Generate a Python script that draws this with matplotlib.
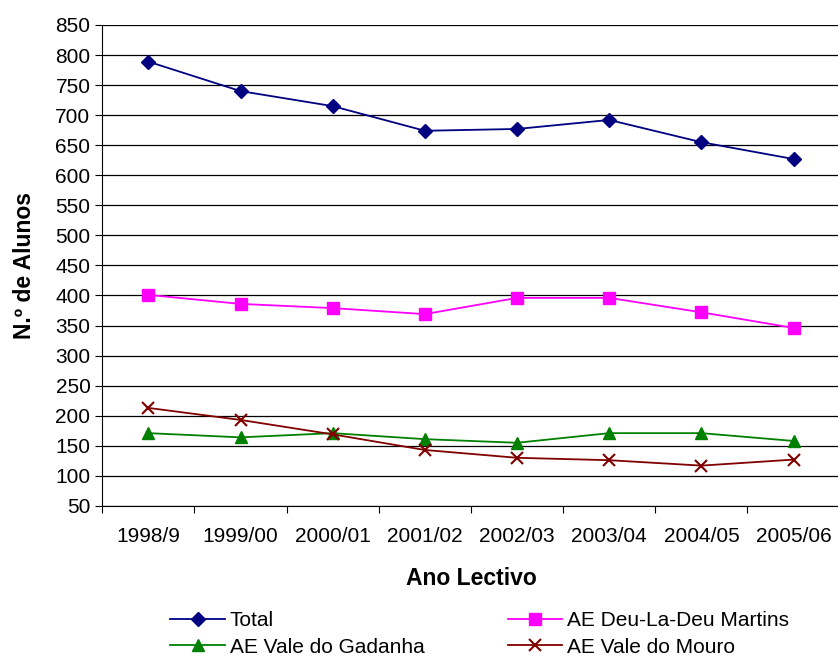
import matplotlib.pyplot as plt

plt.rcParams['font.family'] = ['Liberation Sans', 'DejaVu Sans']

anos = ['1998/9', '1999/00', '2000/01', '2001/02', '2002/03', '2003/04', '2004/05', '2005/06']
total = [789, 740, 715, 674, 677, 692, 655, 627]
deu_la_deu = [401, 386, 379, 369, 396, 396, 372, 346]
gadanha = [171, 164, 171, 161, 155, 171, 171, 158]
mouro = [213, 193, 169, 143, 130, 126, 117, 127]

fig = plt.figure(figsize=(8.38, 6.57), dpi=100)
ax = fig.add_axes([0.122, 0.23, 0.88, 0.732])

x = range(len(anos))
l1, = ax.plot(x, total, color='#000080', marker='D', markersize=7.5, lw=1.3, label='Total')
l2, = ax.plot(x, deu_la_deu, color='#FF00FF', marker='s', markersize=8.5, lw=1.3, label='AE Deu-La-Deu Martins')
l3, = ax.plot(x, gadanha, color='#008000', marker='^', markersize=9, lw=1.3, label='AE Vale do Gadanha')
l4, = ax.plot(x, mouro, color='#800000', marker='x', markersize=9, mew=1.5, lw=1.3, label='AE Vale do Mouro')

ax.set_ylim(50, 850)
ax.set_yticks(range(50, 851, 50))
ax.set_xlim(-0.5, len(anos) - 0.5)
ax.set_xticks([i + 0.5 for i in range(-1, len(anos))])
ax.set_xticklabels([])
ax.set_xticks(list(x), minor=True)
ax.set_xticklabels(anos, minor=True)
ax.tick_params(axis='x', which='minor', length=0, labelsize=15, pad=15)
ax.tick_params(axis='x', which='major', length=5, direction='out', color='black')
ax.tick_params(axis='y', labelsize=15, length=5, direction='out')
ax.grid(axis='y', color='black', lw=0.9)
ax.set_axisbelow(True)
for s in ['top', 'right']:
    ax.spines[s].set_visible(False)
for s in ['left', 'bottom']:
    ax.spines[s].set_color('black')

ax.set_ylabel('N.º de Alunos', fontsize=16.5, fontweight='bold', labelpad=14)
ax.set_xlabel('Ano Lectivo', fontsize=16.5, fontweight='bold', labelpad=15)

# legend filled row by row: Total, Deu-La-Deu / Gadanha, Mouro
fig.legend([l1, l3, l2, l4], [l1.get_label(), l3.get_label(), l2.get_label(), l4.get_label()],
           loc='upper left', ncol=2, frameon=False, fontsize=15, borderpad=0,
           bbox_to_anchor=(160 / 838, 1 - 601 / 657), columnspacing=4.0,
           handlelength=2.6, handletextpad=0.25, labelspacing=0.35)

fig.savefig('out.png', dpi=100)
